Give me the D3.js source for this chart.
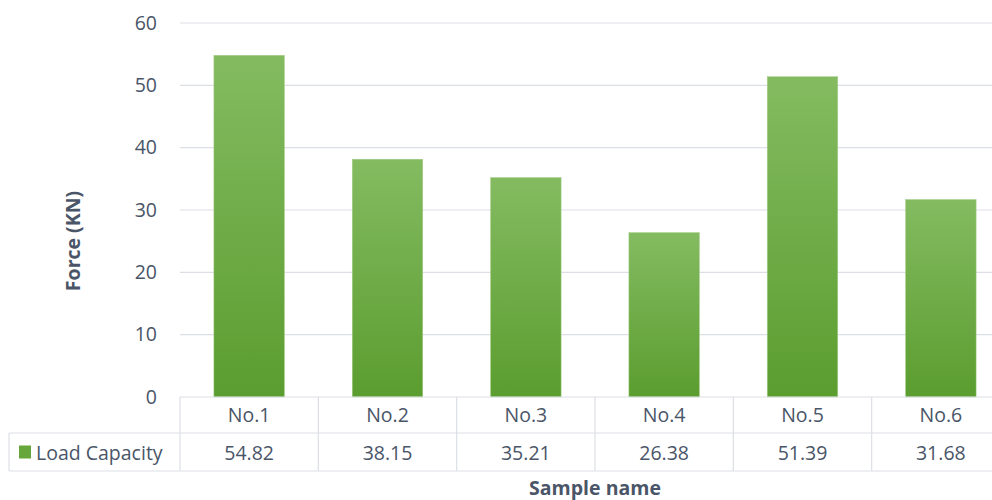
<!DOCTYPE html>
<html><head><meta charset="utf-8">
<script src="https://cdn.jsdelivr.net/npm/d3@7"></script>
<style>body{margin:0;background:#fff;} text{font-family:"Open Sans","Noto Sans",sans-serif;}</style>
</head><body>
<svg id="c" width="992" height="500"></svg>
<script>
const categories = ["No.1","No.2","No.3","No.4","No.5","No.6"];
const loadCapacity = [54.82, 38.15, 35.21, 26.38, 51.39, 31.68];
const valueLabels = ["54.82","38.15","35.21","26.38","51.39","31.68"];
const yTicks = [0,10,20,30,40,50,60];
const seriesName = "Load Capacity";
const yTitle = "Force (KN)";
const xTitle = "Sample name";

const svg = d3.select("#c");
const textColor = "#4a5568";
const gridColor = "#dcdfe5";
const fs = "19.5px";
const x0 = 180, x1 = 1010, yTop = 23, yBot = 397;
const x = d3.scaleBand().domain(categories).range([x0, x1]).paddingInner(0.49).paddingOuter(0.245);
const xc = d3.scaleBand().domain(categories).range([x0, x1]);
const y = d3.scaleLinear().domain([0, 60]).range([yBot, yTop]);

const defs = svg.append("defs");
const g = defs.append("linearGradient").attr("id","bg").attr("x1",0).attr("y1",0).attr("x2",0).attr("y2",1);
g.append("stop").attr("offset","0%").attr("stop-color","#84bb61");
g.append("stop").attr("offset","100%").attr("stop-color","#5b9d2f");

// gridlines
svg.append("g").selectAll("line").data(yTicks.filter(d=>d>0)).join("line")
  .attr("x1", x0).attr("x2", x1).attr("y1", d=>y(d)).attr("y2", d=>y(d))
  .attr("stroke", gridColor).attr("stroke-width", 1.2);

// y axis labels
const ya = d3.axisLeft(y).tickValues(yTicks).tickSize(0).tickPadding(0);
const yg = svg.append("g").attr("transform", `translate(${x0-23},0)`).call(ya);
yg.select(".domain").remove();
yg.selectAll("text").attr("fill", textColor).style("font-size",fs).style("font-family","'Open Sans',sans-serif");

// bars
svg.append("g").selectAll("rect").data(loadCapacity).join("rect")
  .attr("x", (d,i)=>x(categories[i])).attr("width", x.bandwidth())
  .attr("y", d=>y(d)).attr("height", d=>yBot - y(d))
  .attr("fill","url(#bg)").attr("stroke","#a9d08e").attr("stroke-width",0.5);

// table
const rowTop = 397, rowMid = 433, rowBot = 471, legLeft = 9;
const tg = svg.append("g").attr("stroke", gridColor).attr("stroke-width", 1.2);
tg.append("line").attr("x1", x0).attr("x2", x1).attr("y1", rowTop).attr("y2", rowTop);
tg.append("line").attr("x1", legLeft).attr("x2", x1).attr("y1", rowMid).attr("y2", rowMid);
tg.append("line").attr("x1", legLeft).attr("x2", x1).attr("y1", rowBot).attr("y2", rowBot);
tg.append("line").attr("x1", legLeft).attr("x2", legLeft).attr("y1", rowMid).attr("y2", rowBot);
tg.selectAll("line.v").data(categories).join("line").attr("class","v")
  .attr("x1", d=>xc(d)).attr("x2", d=>xc(d)).attr("y1", rowTop).attr("y2", rowBot);

svg.append("g").selectAll("text").data(categories).join("text")
  .attr("x", d=>xc(d)+xc.bandwidth()/2).attr("y", 421.5)
  .attr("text-anchor","middle").attr("fill", textColor).style("font-size",fs).text(d=>d);
svg.append("g").selectAll("text").data(valueLabels).join("text")
  .attr("x", (d,i)=>xc(categories[i])+xc.bandwidth()/2).attr("y", 460)
  .attr("text-anchor","middle").attr("fill", textColor).style("font-size",fs).text(d=>d);

// legend key
svg.append("rect").attr("x", 19).attr("y", 445.5).attr("width", 12).attr("height", 13).attr("fill", "#66a63a");
svg.append("text").attr("x", 36).attr("y", 460).attr("fill", textColor).style("font-size",fs).text(seriesName);

// axis titles
svg.append("text").attr("transform", `translate(80,241) rotate(-90)`).attr("text-anchor","middle")
  .attr("fill", textColor).style("font-size","19.5px").style("font-weight","bold").text(yTitle);
svg.append("text").attr("x", (x0+x1)/2).attr("y", 494.5).attr("text-anchor","middle")
  .attr("fill", textColor).style("font-size","19.5px").style("font-weight","bold").text(xTitle);
</script>
</body></html>
